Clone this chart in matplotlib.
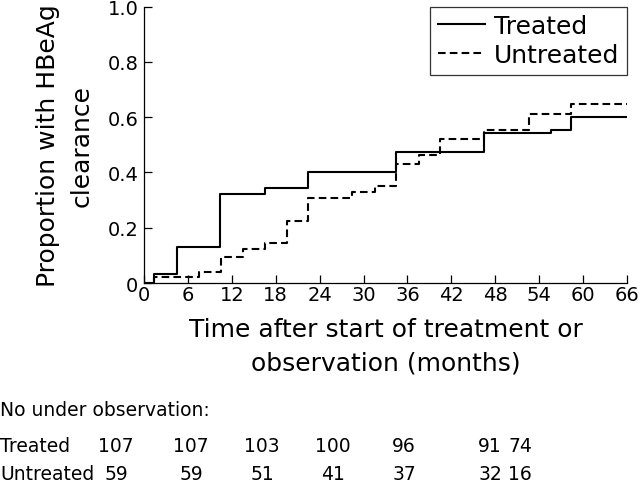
import matplotlib
matplotlib.use("Agg")
import matplotlib.pyplot as plt

plt.rcParams['font.family'] = ['DejaVu Sans']
plt.rcParams['lines.scale_dashes'] = False

# Data
treated_t = [0, 1.4, 4.5, 10.4, 16.6, 22.4, 34.5, 46.4, 55.6, 58.4, 66]
treated_p = [0, 0.032, 0.131, 0.321, 0.343, 0.402, 0.472, 0.544, 0.553, 0.602, 0.602]
untreated_t = [0, 1.4, 7.5, 10.5, 13.5, 16.6, 19.5, 22.4, 28.4, 31.5, 34.5,
               37.6, 40.5, 46.4, 52.6, 58.4, 66]
untreated_p = [0, 0.02, 0.041, 0.093, 0.123, 0.143, 0.223, 0.309, 0.33, 0.351,
               0.43, 0.463, 0.522, 0.552, 0.613, 0.649, 0.649]

x_ticks = list(range(0, 67, 6))
y_ticks = [0, 0.2, 0.4, 0.6, 0.8, 1.0]
y_tick_labels = ["0", "0.2", "0.4", "0.6", "0.8", "1.0"]

table_title = "No under observation:"
row_names = ["Treated", "Untreated"]
treated_n = [107, 107, 103, 100, 96, 91, 74]
untreated_n = [59, 59, 51, 41, 37, 32, 16]

W, H = 640, 489
fig = plt.figure(figsize=(6.4, 4.89), dpi=100)
ax = fig.add_axes([144 / W, 1 - 284 / H, (627 - 144) / W, (284 - 7.5) / H])

ax.step(treated_t, treated_p, where='post', color='black', lw=1.5,
        label='Treated')
ax.step(untreated_t, untreated_p, where='post', color='black', lw=1.5,
        linestyle=(0, (5.5, 3.0)), label='Untreated')

ax.set_xlim(0, 66)
ax.set_ylim(0, 1.0)
ax.set_xticks(x_ticks)
ax.set_yticks(y_ticks)
ax.set_yticklabels(y_tick_labels)
for s in ['top', 'right']:
    ax.spines[s].set_visible(False)
for s in ['left', 'bottom']:
    ax.spines[s].set_linewidth(0.9)
ax.tick_params(axis='both', direction='in', length=6, width=0.9,
               labelsize=14)
ax.tick_params(axis='x', pad=1.5)
ax.tick_params(axis='y', pad=4)

ax.set_xlabel("Time after start of treatment or\nobservation (months)",
              fontsize=18, linespacing=1.5, labelpad=9.5)
ax.set_ylabel("Proportion with HBeAg\nclearance", fontsize=18,
              linespacing=1.5, labelpad=10)

leg = ax.legend(loc='upper right', borderaxespad=0, fontsize=18,
                frameon=True, fancybox=False, handlelength=1.9,
                handletextpad=0.35, borderpad=0.3, labelspacing=0.2)
leg.get_frame().set_edgecolor('black')
leg.get_frame().set_linewidth(0.9)

# Number-at-risk table
fig.text(0, 1 - 416 / H, table_title, fontsize=13.5, ha='left', va='baseline')
row_y = [452, 480]
col_x = [116, 191, 262, 333, 404, 490, 520]
for name, vals, yy in zip(row_names, [treated_n, untreated_n], row_y):
    fig.text(0, 1 - yy / H, name, fontsize=13.5, ha='left', va='baseline')
    for v, xx in zip(vals, col_x):
        fig.text(xx / W, 1 - yy / H, str(v), fontsize=13.5, ha='center',
                 va='baseline')

fig.savefig("out.png", dpi=100)
